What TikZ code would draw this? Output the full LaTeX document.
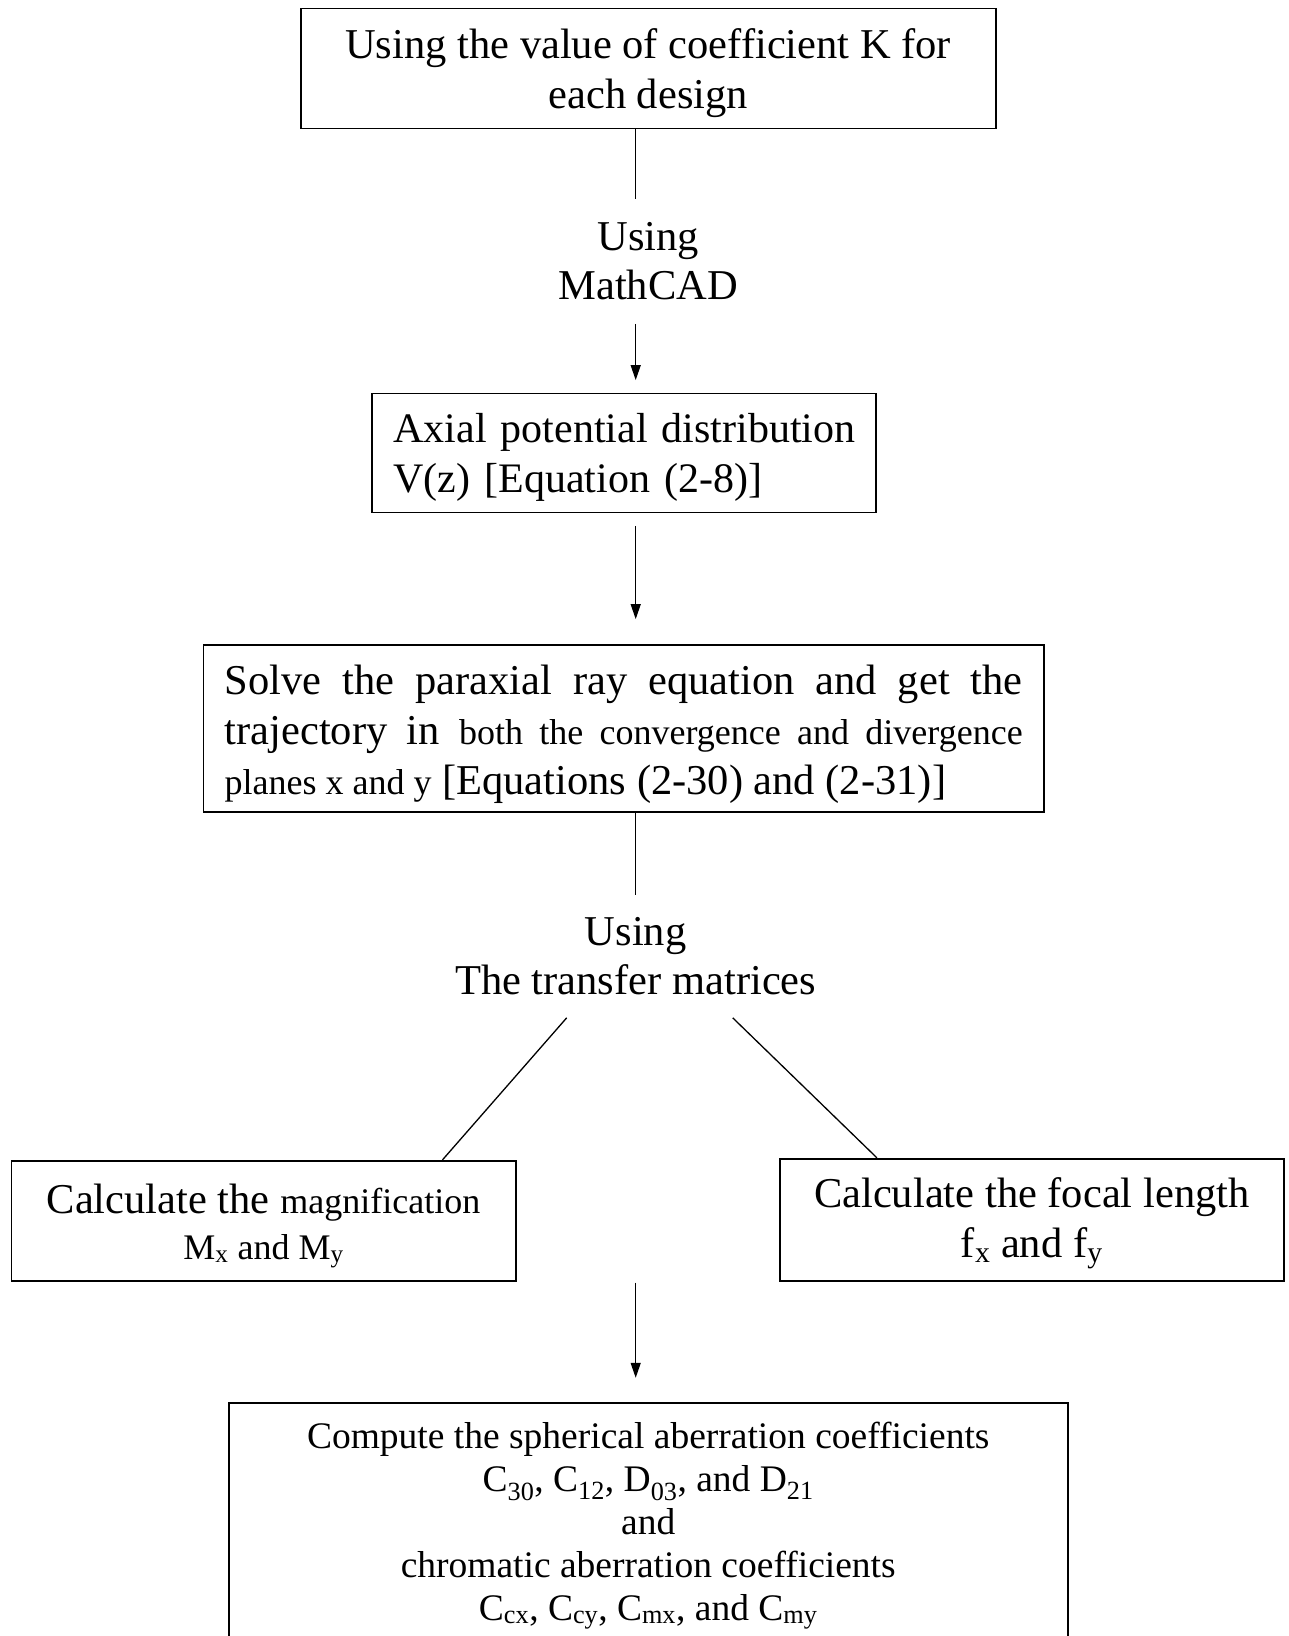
\documentclass[tikz,border=0pt]{standalone}
\usepackage{fontspec}
\setmainfont{Liberation Serif}
\usetikzlibrary{arrows.meta,calc}
\newcommand{\sml}{\fontsize{36}{50}\selectfont}
\newcommand{\topup}[1]{\rule{0pt}{#1}}
\begin{document}
\begin{tikzpicture}[x=1pt,y=-1pt,
  box/.style={draw, line width=1.8pt, inner sep=0pt, align=center},
  conn/.style={line width=1.3pt},
  arr/.style={conn, -{Triangle[length=15pt,width=10pt]}},
  big/.style={font=\fontsize{42.5}{50}\selectfont},
  lbl/.style={inner sep=0pt, align=center, font=\fontsize{42.5}{49}\selectfont}]
\useasboundingbox (0,0) rectangle (1288,1636);
\clip (0,0) rectangle (1288,1636);
\fill[white] (0,0) rectangle (1288,1636);
\coordinate (cx) at (635.7,0);

\node[box, big, minimum width=695.2pt, minimum height=120pt] (k) at (648.2,68.4)
  {\topup{40pt}Using the value of coefficient K for\\each design};
\node[lbl, minimum height=124.2pt] (u1) at (648.2,261.5) {Using\\MathCAD};
\node[box, font=\fontsize{42}{50}\selectfont, minimum width=504.1pt, minimum height=119pt, text width=460pt, align=left] (v) at (623.65,453)
  {\topup{38pt}\mbox{Axial potential distribution}\\\mbox{V(z) [Equation (2-8)]}};
\node[box, big, minimum width=840.3pt, minimum height=167pt, align=left] (p) at (623.65,728.5)
  {\makebox[798pt][s]{\topup{42pt}Solve the paraxial ray equation and get the}\\
   \makebox[798pt][s]{trajectory in {\sml both the convergence and divergence}}\\
   {\sml planes x and y} [Equations (2-30) and (2-31)]};
\node[lbl, minimum height=122pt] (u2) at (635.7,956.6) {Using\\The transfer matrices};
\node[box, big, minimum width=504.1pt, minimum height=120pt] (ml) at (263.55,1220.7)
  {\topup{40pt}Calculate the {\fontsize{36}{47}\selectfont magnification}\\[-4pt]
   {\fontsize{36}{47}\selectfont M\textsubscript{x} and M\textsubscript{y}}};
\node[box, big, minimum width=504.2pt, minimum height=122.1pt] (fl) at (1031.8,1219.65)
  {\topup{38pt}Calculate the focal length\\f\textsubscript{x} and f\textsubscript{y}};
\node[box, font=\fontsize{37.5}{43}\selectfont, minimum width=839.2pt, inner ysep=19pt, anchor=north] (c) at (648.2,1401.8)
  {Compute the spherical aberration coefficients\\
   C\textsubscript{30}, C\textsubscript{12}, D\textsubscript{03}, and D\textsubscript{21}\\
   and\\
   chromatic aberration coefficients\\
   C\textsubscript{cx}, C\textsubscript{cy}, C\textsubscript{mx}, and C\textsubscript{my}\rule[-18pt]{0pt}{1pt}};

\coordinate (j) at (cx |- ml.south);
\draw[conn] (k.south -| cx) -- (u1.north -| cx);
\draw[arr, shorten >=12.5pt] (u1.south -| cx) -- (v.north -| cx);
\draw[arr, shorten <=12.5pt, shorten >=25pt] (v.south -| cx) -- (p.north -| cx);
\draw[conn] (p.south -| cx) -- (u2.north -| cx);
\draw[conn] ($(u2.south)+(-69,0)$) -- ($(ml.north)+(179,0)$);
\draw[conn] ($(u2.south)+(97,0)$) -- ($(fl.north)+(-155,0)$);
\draw[arr, shorten <=1pt, shorten >=24pt] (j) -- (c.north -| cx);
\end{tikzpicture}
\end{document}
